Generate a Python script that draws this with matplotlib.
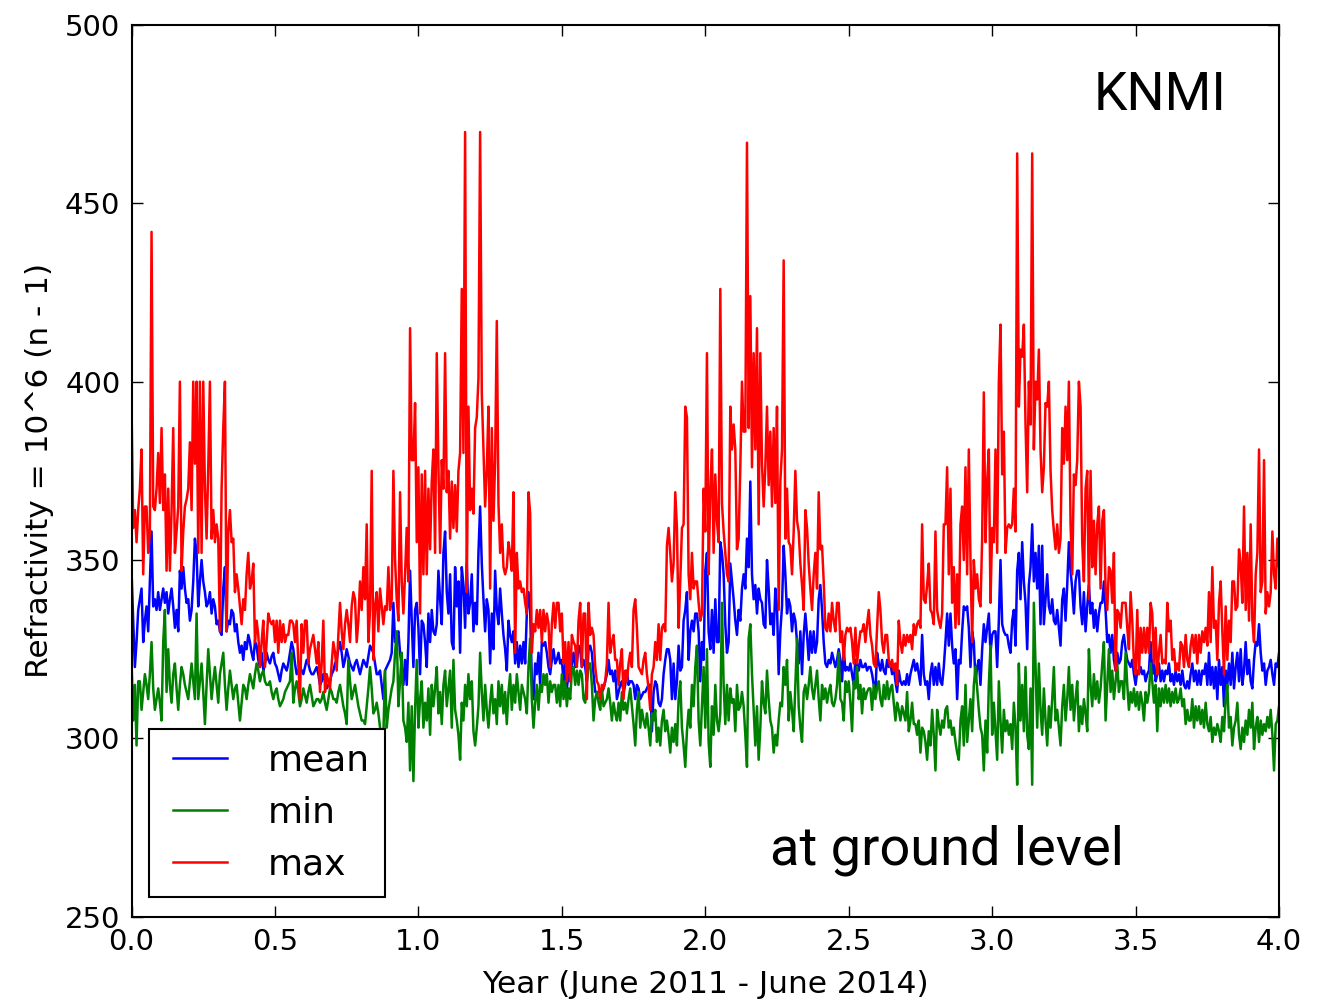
import numpy as np
import matplotlib
matplotlib.use("Agg")
import matplotlib.pyplot as plt
from matplotlib.lines import Line2D
from matplotlib.legend_handler import HandlerLine2D

# ---- data (refractivity, N units) ----
t_start, t_end = 0.0, 4.0   # years

mean_vals = [
 347,333,320,327,336,339,342,327,333,337,330,344,358,337,339,336,341,336,339,342,
 338,341,335,339,342,337,331,336,330,347,342,348,342,338,339,333,336,344,356,352,
 337,344,350,344,341,337,338,341,335,339,337,332,333,330,329,342,348,330,333,332,
 336,335,330,332,327,324,326,322,327,325,329,327,324,322,327,326,322,320,324,319,
 321,324,322,321,
 323,324,321,320,318,316,319,321,320,319,321,324,327,325,321,318,319,320,319,318,
 320,322,321,319,318,318,319,320,318,315,316,318,316,314,315,316,318,319,321,322,
 325,327,324,320,322,325,323,321,320,319,321,322,320,318,320,322,321,320,323,326,
 325,324,321,318,318,319,315,311,319,320,321,322,324,338,327,329,330,324,320,315,
 322,315,327,347,333,
 320,336,338,331,318,333,332,327,320,335,327,336,330,329,332,347,339,332,352,358,
 341,335,346,327,325,348,337,344,324,348,343,331,349,335,338,346,330,338,332,352,
 365,349,339,330,339,336,321,335,325,347,336,332,342,335,329,325,319,333,329,327,
 330,321,327,320,326,321,327,321,335,341,336,316,311,321,318,324,315,327,326,327,
 324,320,318,322,325,
 321,322,324,321,322,316,321,314,318,316,321,324,320,321,326,325,320,322,320,316,
 325,326,324,318,313,313,313,313,313,314,316,318,322,318,319,316,319,311,313,315,
 316,313,315,319,315,316,316,315,311,315,314,311,312,313,313,314,315,315,302,313,
 316,315,310,309,311,318,322,325,325,322,311,321,311,316,326,319,320,333,336,341,
 322,330,333,330,335,
 335,330,316,327,322,347,352,330,325,336,324,339,327,327,355,352,346,332,324,327,
 349,344,339,333,329,336,333,342,346,342,356,348,372,346,339,343,335,342,339,338,
 332,331,350,342,332,335,329,342,337,318,330,337,354,346,335,339,337,330,335,333,
 327,321,330,318,329,335,329,322,330,324,330,324,327,339,343,336,327,321,320,322,
 321,324,322,320,322,
 325,322,316,325,319,320,319,321,318,315,322,321,319,322,320,320,321,319,320,320,
 318,315,313,324,321,319,322,319,318,322,320,321,318,320,316,313,319,316,315,316,
 315,318,315,318,320,322,319,321,318,315,329,318,315,316,311,318,321,315,320,315,
 321,316,315,320,327,335,326,335,326,321,325,311,322,321,330,337,336,337,331,320,
 330,327,316,320,322,
 315,325,332,327,331,335,324,329,330,330,320,333,350,332,330,329,329,326,324,333,
 336,326,347,352,339,355,344,338,325,343,348,360,344,352,342,354,332,354,332,339,
 346,337,335,339,333,332,336,331,326,339,342,333,343,355,347,342,335,344,347,347,
 337,332,341,330,337,343,335,338,331,336,330,335,338,338,344,336,327,329,324,329,
 322,319,324,321,322,
 327,329,325,322,321,320,322,318,315,319,318,320,318,319,316,318,319,327,318,322,
 316,318,321,316,319,316,319,318,321,316,318,315,319,316,318,315,319,315,314,316,
 314,318,321,316,319,315,319,315,319,318,321,315,324,315,320,314,320,311,322,315,
 320,309,319,315,321,315,324,314,320,324,316,325,315,319,327,318,322,316,314,322,
 327,326,332,324,319,321,315,319,320,322,318,315,321,320,324,
]

min_vals = [
 322,305,315,298,316,316,308,313,318,315,311,318,327,314,308,311,314,310,305,327,
 336,313,325,315,310,318,321,314,308,315,320,318,315,313,311,316,321,316,311,335,
 311,316,321,313,304,315,325,318,311,316,320,315,310,318,321,324,315,308,314,319,
 315,311,314,315,310,305,310,315,314,311,315,318,316,314,318,321,319,316,318,319,
 316,315,315,316,
 313,311,313,314,311,309,310,311,313,314,315,316,324,310,314,316,313,309,311,314,
 312,310,313,315,312,309,310,311,311,310,311,313,310,308,311,314,313,311,311,310,
 313,315,312,309,307,304,322,316,311,313,315,312,309,307,305,305,304,309,314,320,
 314,307,308,310,307,303,302,301,319,303,308,311,314,316,324,330,309,316,324,305,
 303,299,310,291,309,
 288,308,322,303,311,316,303,310,305,314,301,315,309,314,320,307,313,304,315,319,
 309,314,319,303,322,308,305,301,294,310,305,315,309,318,311,316,302,298,303,309,
 324,313,305,315,308,303,310,315,307,311,304,316,309,315,307,313,304,313,318,308,
 315,310,318,313,308,315,313,311,307,320,328,311,303,310,315,308,315,313,318,315,
 318,310,316,313,315,
 315,310,315,309,318,311,316,309,314,311,319,320,315,319,315,319,318,311,310,316,
 321,321,315,305,311,313,310,308,314,309,310,311,314,310,305,310,307,305,310,305,
 313,308,310,307,311,314,309,304,298,308,313,303,308,305,303,307,303,298,307,305,
 308,299,303,298,305,308,302,305,301,296,303,299,304,298,311,316,303,298,292,302,
 308,303,315,309,320,
 326,305,298,309,320,303,325,299,292,309,301,315,305,302,307,338,315,304,315,305,
 314,310,311,302,315,308,309,313,309,301,292,328,332,318,308,298,309,294,303,316,
 310,307,319,311,305,303,296,301,298,305,310,309,320,315,322,305,313,308,302,315,
 328,309,303,299,313,315,311,315,320,314,311,315,319,311,305,315,311,314,310,313,
 315,310,309,311,315,
 324,311,310,305,316,313,316,310,302,316,314,320,311,315,307,314,311,313,314,314,
 308,315,311,314,316,311,309,315,311,316,311,314,315,310,305,310,308,305,309,307,
 305,313,302,305,310,304,304,301,305,296,303,302,299,294,302,298,308,301,291,308,
 304,301,305,303,308,309,303,305,301,303,299,296,294,305,309,298,315,299,305,311,
 302,315,320,314,308,
 303,301,291,305,296,315,326,301,310,302,294,316,305,296,308,302,305,301,304,297,
 310,303,287,321,305,315,302,320,301,297,314,287,338,321,303,321,308,301,314,305,
 298,309,303,311,320,305,308,303,298,309,315,305,311,320,308,315,305,311,316,302,
 309,304,311,307,302,325,315,309,318,311,316,310,314,321,327,305,315,325,313,319,
 311,316,321,313,316,
 316,311,324,315,308,313,310,314,309,313,308,313,310,305,313,310,313,321,316,310,
 315,302,314,309,314,310,315,310,314,309,313,310,314,310,311,314,309,311,304,308,
 305,305,311,303,309,305,309,304,308,303,310,304,302,306,299,303,301,304,302,299,
 306,302,311,315,303,306,298,303,305,310,301,297,303,299,305,301,308,303,310,297,
 303,306,299,305,301,304,302,306,303,308,301,291,304,305,309,
]

max_vals = [
 393,359,364,355,364,370,381,346,365,365,352,358,442,365,364,370,380,366,387,364,
 374,347,370,347,364,387,352,358,365,400,347,358,365,367,370,383,364,400,377,400,
 352,400,352,400,370,356,376,400,356,364,355,360,356,330,370,387,400,330,358,364,
 355,356,341,346,342,337,332,339,336,346,352,342,344,349,327,333,329,320,327,333,
 320,327,335,333,
 332,333,327,333,324,333,327,332,327,329,329,333,333,332,327,333,321,311,332,324,
 333,333,321,325,327,329,325,321,327,313,321,333,313,318,316,314,321,327,324,319,
 329,338,330,325,332,336,332,327,337,341,339,327,333,344,336,348,339,360,327,336,
 375,322,337,341,330,342,337,332,337,336,348,336,339,375,350,339,333,369,344,335,
 346,359,344,415,378,
 378,394,355,376,335,374,346,375,346,370,353,372,381,352,408,376,352,378,370,408,
 369,375,356,372,359,371,358,375,380,426,380,470,341,393,364,370,363,387,390,401,
 470,397,381,365,375,393,342,387,361,378,417,366,352,360,348,346,348,355,352,347,
 369,324,352,342,344,341,342,338,335,369,363,324,332,330,336,331,336,327,336,330,
 335,332,320,332,338,
 331,338,338,330,335,321,327,316,327,316,329,327,326,320,333,338,320,335,335,311,
 338,329,331,329,320,316,315,311,315,314,316,321,338,324,327,329,322,322,315,321,
 325,311,319,316,321,324,320,336,339,331,320,319,318,322,324,318,314,308,318,320,
 327,322,332,322,331,332,330,354,359,352,344,349,369,359,331,344,359,360,393,390,
 346,339,352,342,344,
 344,338,333,335,370,358,408,346,369,381,352,374,361,355,426,366,358,352,346,344,
 393,381,388,381,353,356,376,400,386,386,467,387,424,376,408,381,415,360,408,377,
 365,376,393,371,386,365,387,366,393,336,372,381,434,356,370,355,354,346,358,375,
 361,358,349,343,336,364,359,349,342,336,346,352,342,369,353,354,344,331,330,335,
 330,338,333,330,338,
 338,327,330,322,329,331,330,331,327,321,331,321,326,330,330,332,327,332,336,329,
 326,321,320,331,341,336,327,324,329,329,322,320,322,319,321,315,333,327,324,329,
 326,329,327,329,325,332,329,332,333,331,360,339,338,343,349,336,335,332,358,336,
 333,331,335,360,360,376,346,370,338,348,331,346,332,360,365,350,376,346,381,350,
 327,350,342,346,339,
 337,356,397,355,372,381,338,359,355,381,352,400,416,374,386,352,359,360,359,360,
 370,358,464,393,409,407,416,388,369,400,388,464,381,400,395,409,381,369,376,394,
 393,400,375,364,358,353,360,352,356,387,377,393,378,400,360,346,374,371,378,400,
 393,355,344,370,375,339,375,348,361,346,360,365,342,361,364,342,336,348,347,338,
 352,319,336,335,331,
 338,338,338,331,325,341,333,321,318,336,318,331,324,331,324,331,324,338,335,321,
 331,318,324,329,321,322,321,338,330,333,322,325,319,321,319,327,326,320,329,322,
 320,326,329,324,329,321,329,324,330,327,331,326,341,327,348,331,333,322,338,344,
 330,318,337,322,333,327,344,344,336,337,353,349,338,365,336,352,333,360,333,327,
 346,352,381,341,344,378,335,341,337,341,358,346,342,356,348,
]

series_labels = ["mean", "min", "max"]
series_colors = ["#0000ff", "#008000", "#ff0000"]
x_ticks = [0.0, 0.5, 1.0, 1.5, 2.0, 2.5, 3.0, 3.5, 4.0]
y_ticks = [250, 300, 350, 400, 450, 500]

# ---- figure ----
fig = plt.figure(figsize=(13.34, 10.0), dpi=100)
ax = fig.add_axes([0.0986, 0.0833, 0.8602, 0.8917])

for vals, lab, col in zip([mean_vals, min_vals, max_vals], series_labels, series_colors):
    t = np.linspace(t_start, t_end, len(vals))
    ax.plot(t, vals, color=col, lw=1.8, label=lab)

ax.set_xlim(0, 4)
ax.set_ylim(250, 500)
ax.set_xticks(x_ticks)
ax.set_yticks(y_ticks)
ax.set_xticklabels([f"{v:.1f}" for v in x_ticks])
ax.tick_params(direction="in", length=8, width=1, labelsize=21, top=True, right=True, pad=8)
for s in ax.spines.values():
    s.set_linewidth(1.5)

ax.set_xlabel("Year (June 2011 - June 2014)", fontsize=22.5, labelpad=10)
ax.set_ylabel("Refractivity = 10^6 (n - 1)", fontsize=22.5, labelpad=8)

leg = ax.legend(loc="lower left", fontsize=26, frameon=True, fancybox=False,
                framealpha=1, edgecolor="black", handlelength=1.75,
                handletextpad=1.12, labelspacing=0.5, borderpad=0.42,
                borderaxespad=0.0, bbox_to_anchor=(0.0153, 0.0221),
                handler_map={Line2D: HandlerLine2D(xpad=0.25)})
leg.get_frame().set_linewidth(1.5)

ax.text(0.838, 0.905, "KNMI", transform=ax.transAxes, fontsize=38.5,
        family="Roboto", fontweight="normal", ha="left", va="baseline")
ax.text(0.556, 0.058, "at ground level", transform=ax.transAxes, fontsize=39,
        family="Roboto", fontweight="normal", ha="left", va="baseline")

fig.savefig("out.png", dpi=100)
